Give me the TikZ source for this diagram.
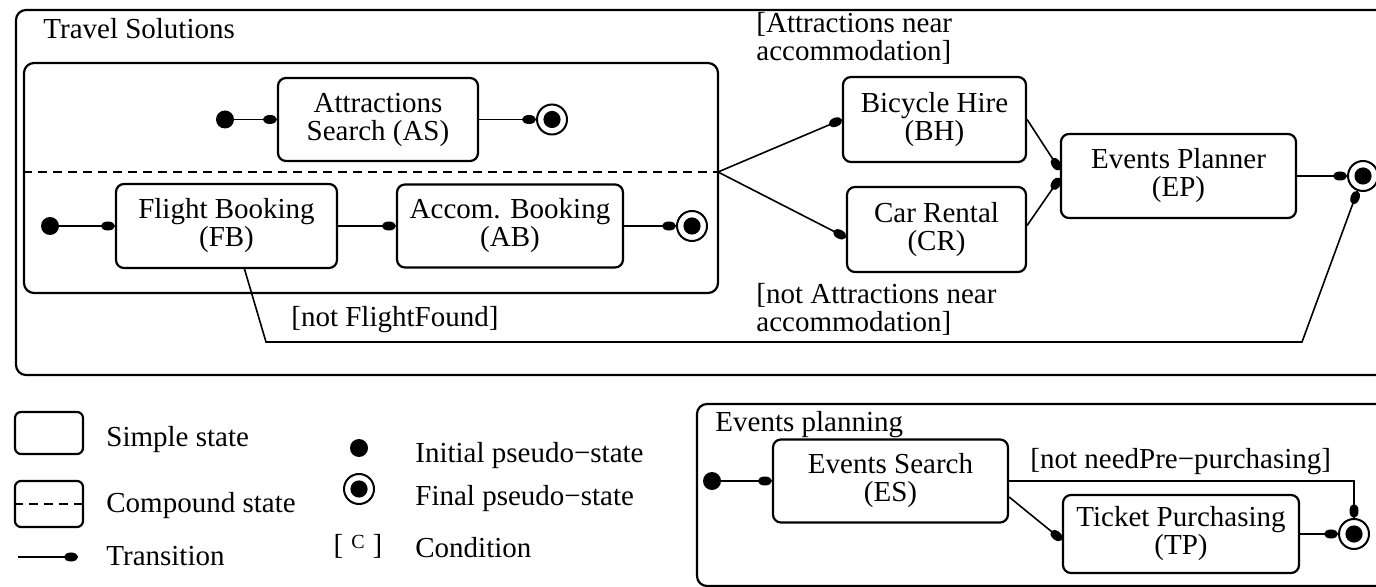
\documentclass[tikz,border=0pt]{standalone}
\usepackage{fontspec}
\setmainfont{Liberation Serif}
\usetikzlibrary{arrows.meta}
\begin{document}
\begin{tikzpicture}[x=0.5pt,y=-0.5pt,
  font=\fontsize{14.5}{14}\selectfont,
  >={Circle[length=7pt,width=4.5pt]},
  state/.style={draw, line width=1.1pt, rounded corners=4pt, align=center, inner sep=0pt},
  region/.style={draw, line width=1.1pt, rounded corners=5pt},
  initdot/.style={circle, fill, inner sep=0pt, minimum size=9pt},
  finaldot/.style={circle, draw, line width=1pt, inner sep=0pt, minimum size=15pt,
    path picture={\fill (path picture bounding box.center) circle (4.3pt);}},
  trans/.style={->, line width=0.8pt},
  split/.style={line width=1pt, dash pattern=on 4.5pt off 3pt},
  lbl/.style={inner sep=0pt, anchor=base west},
  guard/.style={inner sep=0pt, anchor=north west, align=left}]
\useasboundingbox (0,0) rectangle (1376,587);
\clip (0,0) rectangle (1376,587);
\draw[region] (16,10) rectangle (1400,375);
\node[lbl] (ttitle) at (43,39) {Travel Solutions};
\node[region, minimum width=347pt, minimum height=115pt] (par) at (371,178) {};
\coordinate (fork) at (718,172);
\draw[split] (par.west |- fork) -- (fork);
\node[initdot] (asinit) at (225,119.5) {};
\node[state, minimum width=100pt, minimum height=41.5pt] (AS) at (378,119.5) {Attractions\\Search (AS)};
\node[finaldot] (asfin) at (552,119.5) {};
\node[initdot] (fbinit) at (50,226) {};
\node[state, minimum width=110.5pt, minimum height=42pt] (FB) at (226.5,226) {Flight Booking\\(FB)};
\node[state, minimum width=113pt, minimum height=41.5pt] (AB) at (510,226) {Accom. Booking\\(AB)};
\node[finaldot] (abfin) at (692,226) {};
\node[state, minimum width=91.5pt, minimum height=42.5pt] (BH) at (934.5,119.5) {Bicycle Hire\\(BH)};
\node[state, minimum width=89.5pt, minimum height=42.5pt] (CR) at (936.5,229.5) {Car Rental\\(CR)};
\node[state, minimum width=117.5pt, minimum height=42pt] (EP) at (1178.5,176) {Events Planner\\(EP)};
\node[finaldot] (epfin) at (1363,176) {};
\node[guard] (gnear) at (756,12) {[Attractions near\\accommodation]};
\node[guard] (gnotnear) at (756,283) {[not Attractions near\\accommodation]};
\node[lbl] (gflight) at (291,327) {[not FlightFound]};
\coordinate (fbturn) at (266,342);
\coordinate (epturn) at (1302,342);
\draw[trans] (asinit) -- (AS);
\draw[trans] (AS) -- (asfin);
\draw[trans] (fbinit) -- (FB);
\draw[trans] (FB) -- (AB);
\draw[trans] (AB) -- (abfin);
\draw[trans] (fork) -- (BH.west);
\draw[trans] (fork) -- ([yshift=-4pt]CR.west);
\draw[trans] (BH.east) -- ([yshift=3pt]EP.west);
\draw[trans] ([yshift=2pt]CR.east) -- ([yshift=-1pt]EP.west);
\draw[trans] (EP) -- (epfin);
\draw[trans] ([xshift=9pt]FB.south) -- (fbturn) -- (epturn) -- (epfin);
\node[state, minimum width=34pt, minimum height=21pt, rounded corners=3pt] (lsimple) at (49,433) {};
\node[lbl] (tsimple) at (106,446) {Simple state};
\node[state, minimum width=34pt, minimum height=23pt, rounded corners=3pt] (lcomp) at (49,504) {};
\draw[split] (lcomp.west) -- (lcomp.east);
\node[lbl] (tcomp) at (106,512) {Compound state};
\coordinate (ltrfrom) at (18,557);
\coordinate (ltrto) at (78,557);
\draw[trans] (ltrfrom) -- (ltrto);
\node[lbl] (ttrans) at (106,565) {Transition};
\node[initdot] (linit) at (359,448) {};
\node[lbl] (tinit) at (415,463) {Initial pseudo−state};
\node[finaldot] (lfin) at (359,489) {};
\node[lbl] (tfin) at (415,505) {Final pseudo−state};
\node[inner sep=0pt, anchor=base] (lcond) at (358,554) {[\;\raisebox{3pt}{\fontsize{10}{10}\selectfont C}\;]};
\node[lbl] (tcond) at (415,557) {Condition};
\draw[region] (697,404) rectangle (1400,586);
\node[lbl] (etitle) at (715,432) {Events planning};
\node[initdot] (esinit) at (712,481) {};
\node[state, minimum width=117.5pt, minimum height=41.5pt] (ES) at (890.5,481) {Events Search\\(ES)};
\node[state, minimum width=118pt, minimum height=39pt] (TP) at (1181,534) {Ticket Purchasing\\(TP)};
\node[finaldot] (esfin) at (1354,534) {};
\node[lbl] (gpre) at (1030,468) {[not needPre−purchasing]};
\draw[trans] (esinit) -- (ES);
\draw[trans] (ES) -| (esfin);
\draw[trans] ([yshift=-8pt]ES.east) -- ([yshift=-3pt]TP.west);
\draw[trans] (TP) -- (esfin);
\end{tikzpicture}
\end{document}
